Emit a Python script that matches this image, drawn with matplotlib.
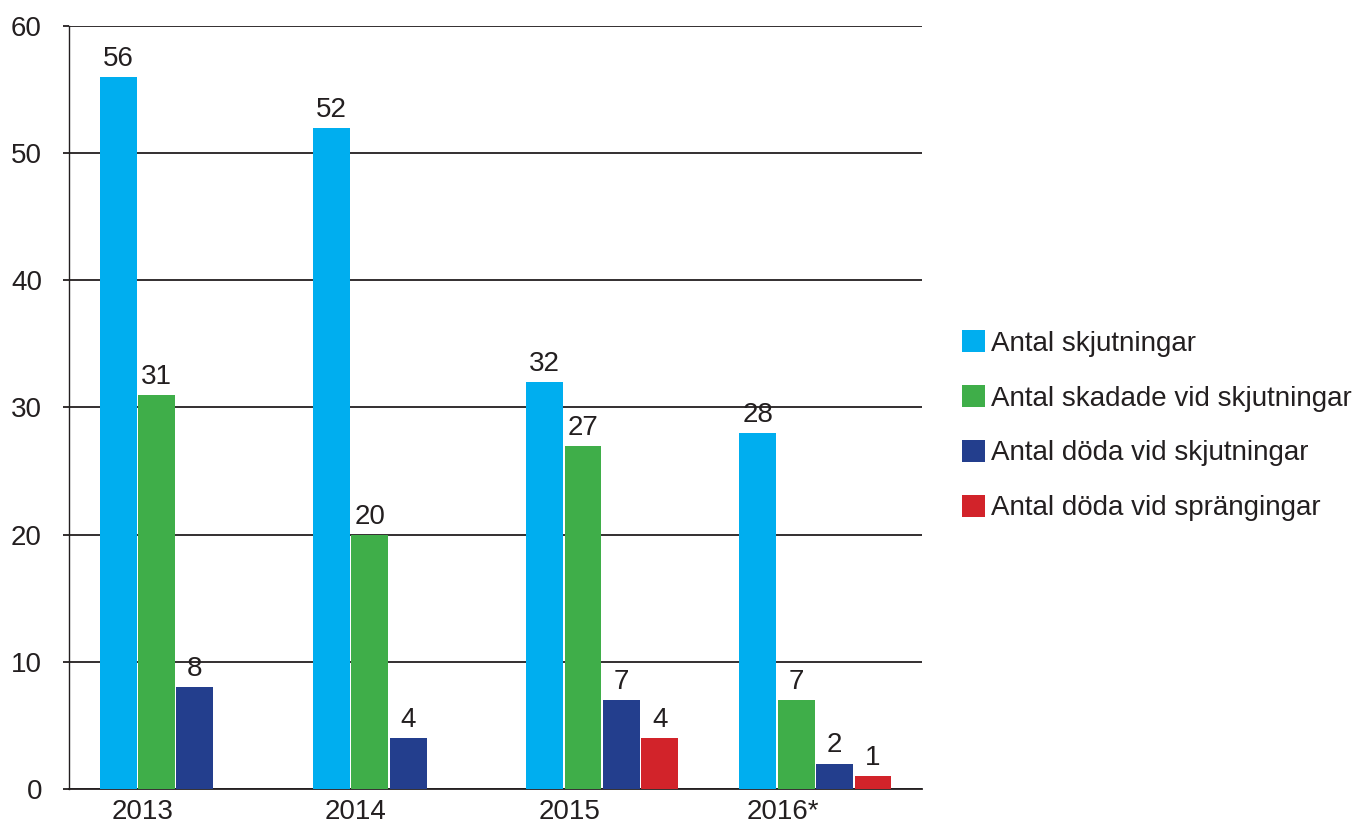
import numpy as np
import matplotlib
matplotlib.use("Agg")
import matplotlib.pyplot as plt
from matplotlib.patches import Patch

plt.rcParams['font.family'] = ['Liberation Sans', 'DejaVu Sans']

# data
years = ['2013', '2014', '2015', '2016*']
skjutningar = [56, 52, 32, 28]
skadade = [31, 20, 27, 7]
doda_skjut = [8, 4, 7, 2]
doda_spr = [0, 0, 4, 1]

series_names = ['Antal skjutningar', 'Antal skadade vid skjutningar',
                'Antal döda vid skjutningar', 'Antal döda vid sprängingar']
series = [skjutningar, skadade, doda_skjut, doda_spr]
colors = ['#00AEEF', '#3FAE49', '#233E8D', '#D2232A']
text_col = '#231F20'
fs = 20

fig = plt.figure(figsize=(13.54, 8.3), dpi=100)
ax = fig.add_axes([0.051, 0.0494, 0.630, 0.9193])

x = np.arange(len(years))
step = 0.18
width = 0.173
for i, (vals, col) in enumerate(zip(series, colors)):
    pos = x + (i - 1.5) * step
    for p, v in zip(pos, vals):
        if v == 0:
            continue
        ax.bar(p, v, width=width, color=col, zorder=3)
        ax.text(p, v + 0.4, str(v), ha='center', va='bottom',
                fontsize=fs, color=text_col, zorder=4)

ax.set_xlim(-0.5, 3.5)
ax.set_ylim(0, 60)
ax.set_yticks(range(0, 61, 10))
ax.yaxis.grid(True, color=text_col, linewidth=1.3, zorder=1)
ax.set_axisbelow(True)

# year labels sit a bit left of each group's centre
ax.set_xticks(x - 0.155)
ax.set_xticklabels(years)
ax.tick_params(axis='x', length=0, pad=7, labelsize=fs, labelcolor=text_col)
ax.tick_params(axis='y', length=4.5, width=1.3, color=text_col, pad=15,
               labelsize=fs, labelcolor=text_col)

for s in ['top', 'right']:
    ax.spines[s].set_visible(False)
ax.spines['left'].set_color(text_col)
ax.spines['left'].set_linewidth(1.0)
ax.spines['bottom'].set_color(text_col)
ax.spines['bottom'].set_linewidth(1.3)

handles = [Patch(facecolor=c, edgecolor='none') for c in colors]
fig.legend(handles, series_names, loc='center left',
           bbox_to_anchor=(0.7105, 0.487), frameon=False,
           fontsize=fs, handlelength=0.83, handleheight=0.83,
           handletextpad=0.2, labelspacing=1.02, borderaxespad=0,
           borderpad=0, labelcolor=text_col)

fig.savefig('out.png', dpi=100)
